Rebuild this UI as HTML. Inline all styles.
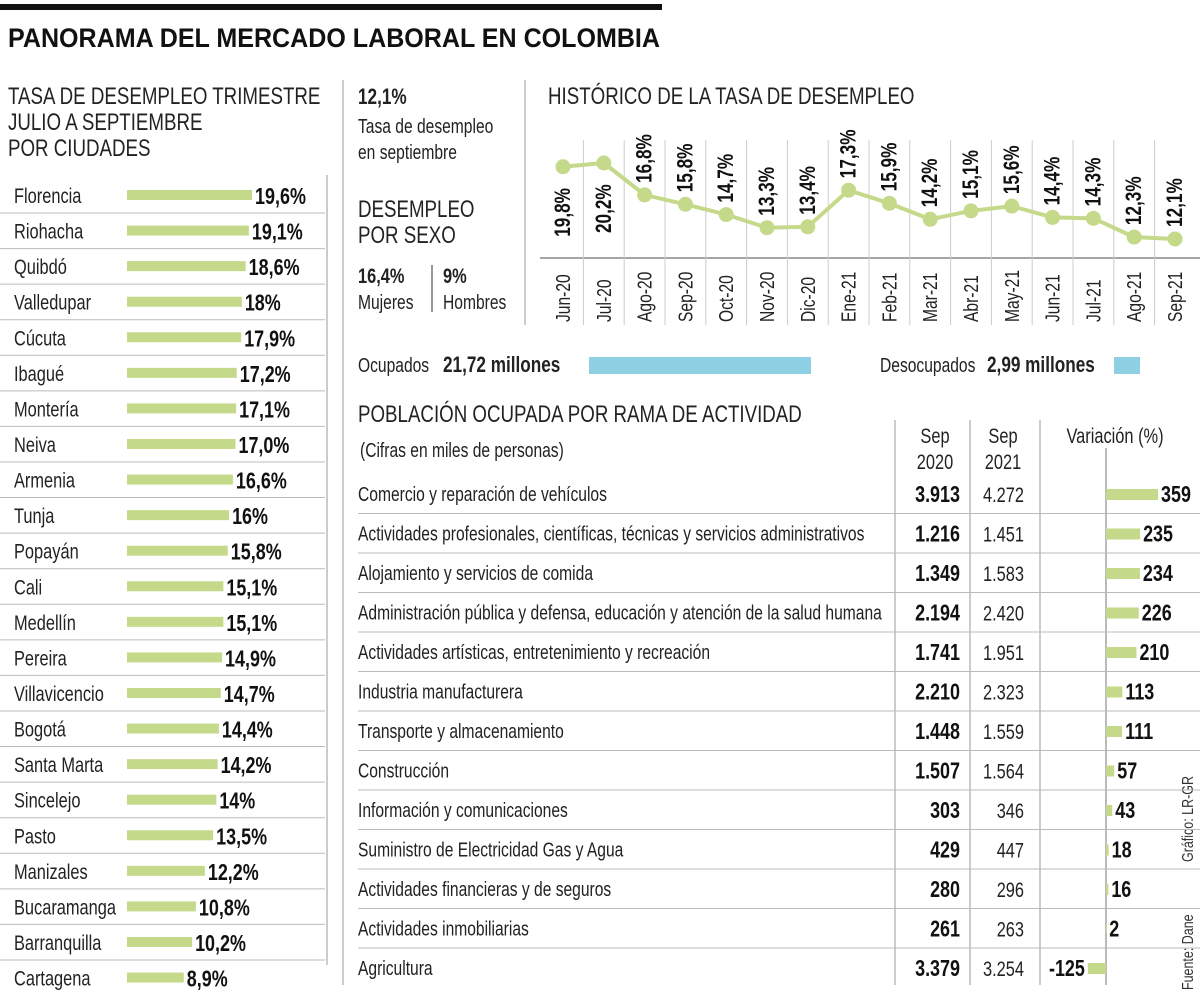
<!DOCTYPE html>
<html><head><meta charset="utf-8">
<style>
html,body{margin:0;padding:0;background:#fff;}
svg{display:block;font-family:"Liberation Sans",sans-serif;}
</style></head>
<body>
<svg id="s" width="1200" height="993" viewBox="0 0 1200 993" xmlns="http://www.w3.org/2000/svg">
<rect x="0" y="4" width="662" height="6" fill="#111"/>
<text x="8" y="47" font-size="27" font-weight="bold" fill="#111" textLength="652" lengthAdjust="spacingAndGlyphs" class="fixed">PANORAMA DEL MERCADO LABORAL EN COLOMBIA</text>
<g fill="#222" font-size="24">
<text x="8" y="104">TASA DE DESEMPLEO TRIMESTRE</text>
<text x="8" y="130">JULIO A SEPTIEMBRE</text>
<text x="8" y="156">POR CIUDADES</text>
</g>
<line x1="343" y1="80" x2="343" y2="985" stroke="#999"/>
<line x1="525" y1="80" x2="525" y2="325" stroke="#999"/>
<g fill="#222">
<text x="358" y="104" font-size="22" font-weight="bold">12,1%</text>
<text x="358" y="133" font-size="20">Tasa de desempleo</text>
<text x="358" y="159" font-size="20">en septiembre</text>
<text x="358" y="217" font-size="24">DESEMPLEO</text>
<text x="358" y="243" font-size="24">POR SEXO</text>
<text x="358" y="283" font-size="21" font-weight="bold">16,4%</text>
<text x="443" y="283" font-size="21" font-weight="bold">9%</text>
<text x="358" y="309" font-size="20">Mujeres</text>
<text x="443" y="309" font-size="20">Hombres</text>
<line x1="432" y1="265" x2="432" y2="312" stroke="#333"/>
</g>
<text x="548" y="104" font-size="24" fill="#222">HISTÓRICO DE LA TASA DE DESEMPLEO</text>
<g fill="#222">
<text x="358" y="372" font-size="20">Ocupados</text>
<text x="443" y="372" font-size="22" font-weight="bold">21,72 millones</text>
<rect x="589" y="357" width="222" height="17" fill="#8ecfe3"/>
<text x="880" y="372" font-size="20">Desocupados</text>
<text x="987" y="372" font-size="22" font-weight="bold">2,99 millones</text>
<rect x="1114" y="357" width="26" height="17" fill="#8ecfe3"/>
</g>
<text x="358" y="422" font-size="24" fill="#222">POBLACIÓN OCUPADA POR RAMA DE ACTIVIDAD</text>
<text x="360" y="457" font-size="20" fill="#222">(Cifras en miles de personas)</text>
<g fill="#222" font-size="21" text-anchor="middle">
<text x="935" y="443">Sep</text><text x="935" y="469">2020</text>
<text x="1003" y="443">Sep</text><text x="1003" y="469">2021</text>
<text x="1115" y="443">Variación (%)</text>
</g>
<line x1="895" y1="420" x2="895" y2="985" stroke="#999"/>
<line x1="970" y1="420" x2="970" y2="985" stroke="#999"/>
<line x1="1040" y1="420" x2="1040" y2="985" stroke="#999"/>
<line x1="1106" y1="448" x2="1106" y2="985" stroke="#777"/>
<g fill="#333" font-size="16">
<text transform="translate(1193,990) rotate(-90)">Fuente: Dane</text>
<text transform="translate(1193,862) rotate(-90)">Gráfico: LR-GR</text>
</g>
<g id="cities"></g><g id="line"></g><g id="table"></g>
</svg>
<script>
const cities=["Florencia","Riohacha","Quibdó","Valledupar","Cúcuta","Ibagué","Montería","Neiva","Armenia","Tunja","Popayán","Cali","Medellín","Pereira","Villavicencio","Bogotá","Santa Marta","Sincelejo","Pasto","Manizales","Bucaramanga","Barranquilla","Cartagena"];
const cityRates=[19.6,19.1,18.6,18,17.9,17.2,17.1,17.0,16.6,16,15.8,15.1,15.1,14.9,14.7,14.4,14.2,14,13.5,12.2,10.8,10.2,8.9];
const cityLabels=["19,6%","19,1%","18,6%","18%","17,9%","17,2%","17,1%","17,0%","16,6%","16%","15,8%","15,1%","15,1%","14,9%","14,7%","14,4%","14,2%","14%","13,5%","12,2%","10,8%","10,2%","8,9%"];
const months=["Jun-20","Jul-20","Ago-20","Sep-20","Oct-20","Nov-20","Dic-20","Ene-21","Feb-21","Mar-21","Abr-21","May-21","Jun-21","Jul-21","Ago-21","Sep-21"];
const rates=[19.8,20.2,16.8,15.8,14.7,13.3,13.4,17.3,15.9,14.2,15.1,15.6,14.4,14.3,12.3,12.1];
const branches=["Comercio y reparación de vehículos","Actividades profesionales, científicas, técnicas y servicios administrativos","Alojamiento y servicios de comida","Administración pública y defensa, educación y atención de la salud humana","Actividades artísticas, entretenimiento y recreación","Industria manufacturera","Transporte y almacenamiento","Construcción","Información y comunicaciones","Suministro de Electricidad Gas y Agua","Actividades financieras y de seguros","Actividades inmobiliarias","Agricultura"];
const sep2020=["3.913","1.216","1.349","2.194","1.741","2.210","1.448","1.507","303","429","280","261","3.379"];
const sep2021=["4.272","1.451","1.583","2.420","1.951","2.323","1.559","1.564","346","447","296","263","3.254"];
const variation=[359,235,234,226,210,113,111,57,43,18,16,2,-125];

const NS="http://www.w3.org/2000/svg";
function mk(p,tag,a,txt){const e=document.createElementNS(NS,tag);for(const k in a)e.setAttribute(k,a[k]);if(txt!==undefined)e.textContent=txt;p.appendChild(e);return e;}
const GREEN="#c5d98a";

const cg=document.getElementById('cities');
const cx=v=>127+v*6.38, cy=i=>195+i*35.57;
cities.forEach((c,i)=>{
  const y=cy(i);
  let t=mk(cg,'text',{x:14,y:y+8,'font-size':21,fill:'#222'},c);
  
  
  let r=mk(cg,'rect',{x:127,y:y-5,width:cx(cityRates[i])-127,height:10,fill:GREEN});
  
  
  let v=mk(cg,'text',{x:cx(cityRates[i])+3,y:y+9,'font-size':23,'font-weight':'bold',fill:'#111'},cityLabels[i]);
  
  
  if(i<cities.length-1){let l=mk(cg,'line',{x1:0,x2:325,y1:y+18,y2:y+18,stroke:'#bbb'});
    
    }
});
mk(cg,'line',{x1:327,x2:327,y1:175,y2:965,stroke:'#999'});

const lg=document.getElementById('line');
const lx=i=>563+i*40.8, ly=v=>163+(20.2-v)*9.38;
mk(lg,'line',{x1:540,x2:1200,y1:258,y2:258,stroke:'#888','stroke-width':1.5});
months.forEach((m,i)=>{
  if(i>0){mk(lg,'line',{x1:lx(i)-20.4,x2:lx(i)-20.4,y1:140,y2:325,stroke:'#ccc'});}
  let t=mk(lg,'text',{transform:`translate(${lx(i)+7},322) rotate(-90)`,'font-size':20,fill:'#222'},m);
  
  
});
mk(lg,'polyline',{points:rates.map((v,i)=>lx(i)+','+ly(v)).join(' '),fill:'none',stroke:GREEN,'stroke-width':4});
rates.forEach((v,i)=>{
  let d=mk(lg,'circle',{cx:lx(i),cy:ly(v),r:7.5,fill:GREEN});
  
  
  const below=i<2;
  const s=String(v.toFixed(1)).replace('.',',')+'%';
  const ty=below?ly(v)+70:ly(v)-12;
  let t=mk(lg,'text',{transform:`translate(${lx(i)+7},${ty}) rotate(-90)`,'font-size':22,'font-weight':'bold',fill:'#111'},s);
  
  
});

const tg=document.getElementById('table');
const ry=i=>494+i*39.5, vx=v=>1106+v*0.145;
branches.forEach((b,i)=>{
  const y=ry(i);
  let t=mk(tg,'text',{x:358,y:y+7,'font-size':20,fill:'#222'},b);
  
  
  let a=mk(tg,'text',{x:960,y:y+8,'font-size':23,'font-weight':'bold','text-anchor':'end',fill:'#111'},sep2020[i]);
  
  
  let c=mk(tg,'text',{x:1024,y:y+8,'font-size':21,'text-anchor':'end',fill:'#222'},sep2021[i]);
  
  
  const v=variation[i], x0=Math.min(vx(0),vx(v));
  let r=mk(tg,'rect',{x:x0,y:y-5,width:Math.max(Math.abs(vx(v)-vx(0)),1),height:11,fill:GREEN});
  
  
  let vt=mk(tg,'text',v>=0?{x:vx(v)+3,y:y+8,'font-size':23,'font-weight':'bold',fill:'#111'}:{x:vx(v)-3,y:y+8,'font-size':23,'font-weight':'bold','text-anchor':'end',fill:'#111'},String(v));
  
  
  if(i<branches.length-1){let l=mk(tg,'line',{x1:358,x2:1200,y1:y+19.5,y2:y+19.5,stroke:'#bbb'});
    
    }
});

document.querySelectorAll('#s text').forEach(t=>{
  if(t.classList.contains('fixed'))return;
  const L=t.getComputedTextLength();
  if(L>0){t.setAttribute('textLength',(L*0.78).toFixed(1));t.setAttribute('lengthAdjust','spacingAndGlyphs');}
});
</script>
</body></html>
